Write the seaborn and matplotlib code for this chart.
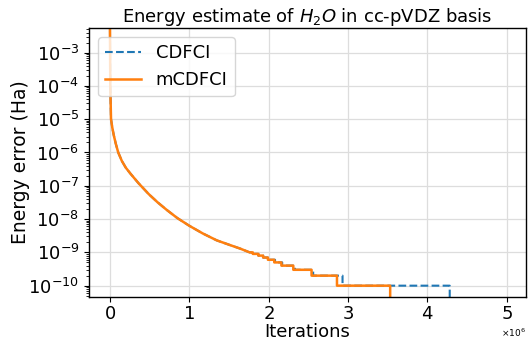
import numpy as np
import pandas as pd
import matplotlib
matplotlib.use("Agg")
import matplotlib.pyplot as plt
import matplotlib.ticker as mticker
import seaborn as sns

# smooth part of the convergence curve (shared by both methods), iterations in units of 1e6
smooth_iters = [0.0, 0.005, 0.014, 0.03, 0.05, 0.075, 0.105, 0.15, 0.2, 0.26, 0.36, 0.49, 0.6,
                0.714, 0.85, 1.0, 1.17, 1.345, 1.5, 1.64, 1.76]
smooth_err = [1e-2, 1e-4, 1e-5, 5.6e-6, 3.2e-6, 1.8e-6, 1.0e-6, 5.6e-7, 3.5e-7, 2.3e-7, 1.2e-7,
              5.6e-8, 3.2e-8, 1.9e-8, 1.07e-8, 6.3e-9, 3.7e-9, 2.3e-9, 1.7e-9, 1.3e-9, 1.0e-9]

# step part: iteration where the error drops to the given level
step_levels = [9e-10, 8e-10, 7e-10, 6e-10, 5e-10, 4e-10, 3e-10, 2e-10, 1e-10, 0.0]
cdfci_steps = [1.80, 1.87, 1.93, 1.99, 2.08, 2.17, 2.33, 2.56, 2.93, 4.28]
mcdfci_steps = [1.80, 1.87, 1.93, 1.99, 2.07, 2.16, 2.31, 2.54, 2.86, 3.53]


def build(steps):
    xs = list(smooth_iters)
    ys = list(smooth_err)
    prev = smooth_err[-1]
    for s, lvl in zip(steps, step_levels):
        xs += [s, s]
        ys += [prev, lvl]
        prev = lvl
    return pd.DataFrame({"Iterations": np.array(xs) * 1e6, "Error": ys})


df = pd.concat([build(cdfci_steps).assign(Method="CDFCI"),
                build(mcdfci_steps).assign(Method="mCDFCI")], ignore_index=True)

plt.rcParams["font.family"] = ["DejaVu Sans"]
fig = plt.figure(figsize=(5.28, 3.42), dpi=100)
ax = fig.add_axes([0.1686, 0.1316, 0.8275, 0.7866])

sns.lineplot(data=df[df.Method == "CDFCI"], x="Iterations", y="Error", ax=ax,
             color="#1f77b4", linestyle="--", linewidth=1.5, estimator=None, sort=False,
             label="CDFCI")
sns.lineplot(data=df[df.Method == "mCDFCI"], x="Iterations", y="Error", ax=ax,
             color="#ff7f0e", linewidth=1.8, estimator=None, sort=False,
             label="mCDFCI")

ax.set_yscale("log")
ax.set_ylim(10 ** -10.34, 10 ** -2.26)
ax.set_xlim(-0.263e6, 5.24e6)
ax.yaxis.set_major_locator(mticker.LogLocator(base=10, numticks=20))
ax.yaxis.set_minor_locator(mticker.LogLocator(base=10, subs=np.arange(2, 10), numticks=20))
ax.yaxis.set_minor_formatter(mticker.NullFormatter())
ax.xaxis.set_major_locator(mticker.MultipleLocator(1e6))
ax.ticklabel_format(axis="x", style="sci", scilimits=(6, 6), useMathText=True)
ax.xaxis.get_offset_text().set_fontsize(6.5)

ax.grid(True, which="major", color="#dddddd", linewidth=0.9)
ax.set_axisbelow(True)
ax.tick_params(axis="both", which="major", labelsize=13)
ax.tick_params(axis="x", which="major", pad=2)
for s in ax.spines.values():
    s.set_color("black")
    s.set_linewidth(1.0)

ax.set_xlabel("Iterations", fontsize=13)
ax.set_ylabel("Energy error (Ha)", fontsize=13.5)
ax.xaxis.set_label_coords(0.5, -0.095)
ax.yaxis.set_label_coords(-0.135, 0.5)
ax.set_title("Energy estimate of $H_2O$ in cc-pVDZ basis", fontsize=13, pad=4)
ax.legend(loc="upper left", fontsize=13, framealpha=0.8)

fig.savefig("out.png", dpi=100)
